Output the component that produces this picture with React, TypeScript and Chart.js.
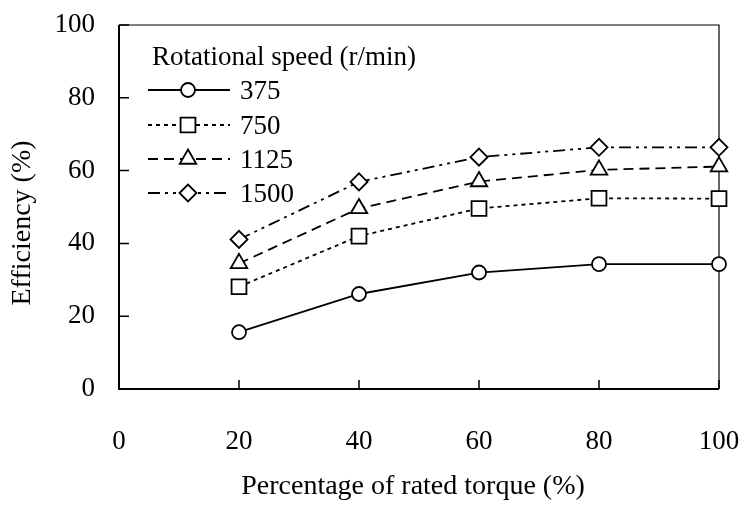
import React, { useEffect, useRef } from 'react';
import { Chart, registerables } from 'chart.js';
import { drawPoint } from 'chart.js/helpers';
Chart.register(...registerables);

const torque = [20, 40, 60, 80, 100];
const speeds = ['375', '750', '1125', '1500'];
const eff375 = [15.6, 26.1, 32.0, 34.3, 34.3];
const eff750 = [28.1, 42.0, 49.6, 52.4, 52.3];
const eff1125 = [34.5, 49.6, 57.0, 60.2, 61.1];
const eff1500 = [41.1, 56.9, 63.7, 66.4, 66.4];
const xTicks = [0, 20, 40, 60, 80, 100];
const yTicks = [0, 20, 40, 60, 80, 100];
const legendTitle = 'Rotational speed (r/min)';
const xTitle = 'Percentage of rated torque (%)';
const yTitle = 'Efficiency (%)';

const FAMILY = "'Liberation Serif', 'Times New Roman', serif";
const styles = [
  { dash: [], pointStyle: 'circle', radius: 7 },
  { dash: [4, 4], pointStyle: 'rect', radius: 10.5 },
  { dash: [10, 6], pointStyle: 'triangle', radius: 9.5 },
  { dash: [12, 5, 3, 5, 3, 5], pointStyle: 'rectRot', radius: 8.5 },
];

const seriesValues = [eff375, eff750, eff1125, eff1500];

const noPad = (s: any) => {
  s.paddingLeft = 0;
  s.paddingRight = 0;
  s.paddingTop = 0;
  s.paddingBottom = 0;
};

const decorPlugin = {
  id: 'decor',
  beforeDatasetsDraw(chart: any) {
    const { ctx, chartArea: a, scales } = chart;
    ctx.save();
    ctx.strokeStyle = '#000';
    ctx.lineWidth = 1.2;
    ctx.beginPath();
    ctx.moveTo(a.left, a.top);
    ctx.lineTo(a.right, a.top);
    ctx.lineTo(a.right, a.bottom);
    ctx.stroke();
    ctx.lineWidth = 2;
    ctx.beginPath();
    ctx.moveTo(a.left, a.top);
    ctx.lineTo(a.left, a.bottom);
    ctx.lineTo(a.right, a.bottom);
    ctx.stroke();
    ctx.lineWidth = 1.5;
    ctx.beginPath();
    for (const v of yTicks) {
      const y = scales.y.getPixelForValue(v);
      ctx.moveTo(a.left, y);
      ctx.lineTo(a.left + 10, y);
    }
    for (const v of xTicks) {
      const x = scales.x.getPixelForValue(v);
      ctx.moveTo(x, a.bottom);
      ctx.lineTo(x, a.bottom - 9);
    }
    ctx.stroke();
    ctx.restore();
  },
  afterDraw(chart: any) {
    const { ctx, chartArea: a } = chart;
    ctx.save();
    ctx.fillStyle = '#000';
    ctx.font = `28px ${FAMILY}`;
    ctx.textAlign = 'center';
    ctx.textBaseline = 'middle';
    ctx.fillText(xTitle, 413, 487);
    ctx.save();
    ctx.translate(23, 223);
    ctx.rotate(-Math.PI / 2);
    ctx.fillText(yTitle, 0, 0);
    ctx.restore();
    ctx.font = `27px ${FAMILY}`;
    ctx.textAlign = 'left';
    ctx.fillText(legendTitle, a.left + 33, 58);
    const rowY = [90, 125, 159, 193];
    speeds.forEach((s, i) => {
      const st = styles[i];
      const y = rowY[i];
      ctx.strokeStyle = '#000';
      ctx.lineWidth = 1.8;
      ctx.setLineDash(st.dash);
      ctx.beginPath();
      ctx.moveTo(148, y);
      ctx.lineTo(230, y);
      ctx.stroke();
      ctx.setLineDash([]);
      ctx.fillStyle = '#fff';
      ctx.strokeStyle = '#000';
      ctx.lineWidth = 1.8;
      drawPoint(ctx, { pointStyle: st.pointStyle as any, radius: st.radius, borderWidth: 1.8, rotation: 0 }, 188, y);
      ctx.fillStyle = '#000';
      ctx.fillText(s, 240, y + 2);
    });
    ctx.restore();
  },
};

export default function App() {
  const ref = useRef<HTMLCanvasElement>(null);
  useEffect(() => {
    document.body.style.margin = '0';
    const font = { family: FAMILY, size: 27 };
    const chart = new Chart(ref.current!, {
      type: 'line',
      data: {
        datasets: seriesValues.map((vals, i) => ({
          label: speeds[i],
          data: torque.map((x, j) => ({ x, y: vals[j] })),
          borderColor: '#000',
          borderWidth: 1.8,
          borderDash: styles[i].dash,
          pointStyle: styles[i].pointStyle as any,
          pointRadius: styles[i].radius,
          pointBackgroundColor: '#fff',
          pointBorderColor: '#000',
          pointBorderWidth: 1.8,
          fill: false,
          tension: 0,
          clip: false as any,
        })),
      },
      options: {
        responsive: false,
        animation: false,
        events: [],
        layout: { padding: { top: 25, right: 25, left: 0, bottom: 0 } },
        plugins: { legend: { display: false }, tooltip: { enabled: false } },
        scales: {
          x: {
            type: 'linear',
            min: 0,
            max: 100,
            afterBuildTicks: (s: any) => { s.ticks = xTicks.map((v) => ({ value: v })); },
            afterFit: (s: any) => { s.height = 116; noPad(s); },
            grid: { display: false, drawTicks: false },
            border: { display: false },
            ticks: { font, color: '#000', padding: 37, maxRotation: 0, autoSkip: false },
          },
          y: {
            type: 'linear',
            min: 0,
            max: 100,
            afterBuildTicks: (s: any) => { s.ticks = yTicks.map((v) => ({ value: v })); },
            afterFit: (s: any) => { s.width = 119; noPad(s); },
            grid: { display: false, drawTicks: false },
            border: { display: false },
            ticks: { font, color: '#000', padding: 24 },
          },
        },
      },
      plugins: [decorPlugin],
    });
    return () => chart.destroy();
  }, []);
  return <canvas ref={ref} width={744} height={505} style={{ display: 'block' }} />;
}
